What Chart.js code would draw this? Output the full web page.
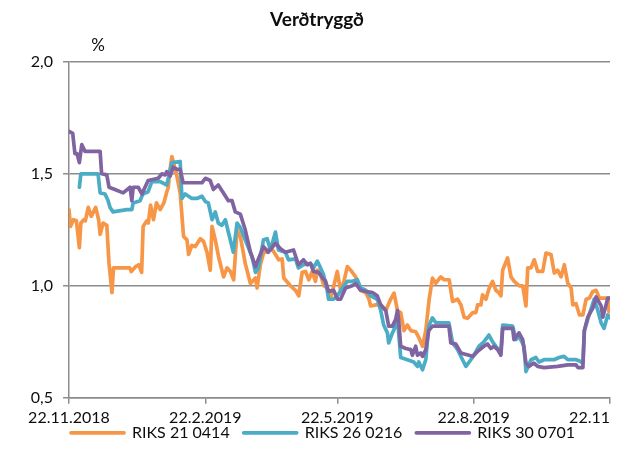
<!DOCTYPE html>
<html>
<head>
<meta charset="utf-8">
<script src="https://cdn.jsdelivr.net/npm/chart.js@4.4.1/dist/chart.umd.min.js"></script>
<style>
  body { margin: 0; background: #fff; }
  #wrap { width: 611px; height: 449px; overflow: hidden; }
</style>
</head>
<body>
<div id="wrap"><canvas id="chart" width="634" height="449"></canvas></div>
<script>
/* DATA: x = days after 22.11.2018 */
const tickDays = [0, 92, 181, 273, 365];
const tickLabels = ['22.11.2018', '22.2.2019', '22.5.2019', '22.8.2019', '22.11.2019'];

const seriesNames = ['RIKS 21 0414', 'RIKS 26 0216', 'RIKS 30 0701'];
const seriesColors = ['#F79646', '#4BACC6', '#8064A2'];

const r21Days = [0,1,3,5,7,8,10,11,13,15,18,20,21,23,25.5,27,29,30,41,42,45,47,49,50,52.5,53.5,55,57,59,61.5,64,66,67,68,69.4,70.5,72.8,75,77.3,79.6,80.7,82.9,85.2,88.6,90.8,93.1,95.3,96.5,98.7,100.9,104.3,106.6,108.9,111.1,113.4,115.6,118.9,122.4,125.8,126.9,129.1,131.4,133.7,135.9,139.3,141.5,143.8,144.9,149.4,152.8,155,157.3,159.6,161.8,164.1,166.3,167.5,169.7,171.9,174.2,176.5,178.7,181,183.2,185.5,187.8,190,193.4,196.8,200.1,202.4,203.5,206.9,210.3,213.7,217,219.3,221.6,223.8,226,228.3,230.6,233.9,236.2,238.5,240.7,243,245.2,247.5,250.8,253.1,256.5,258.8,262.2,264.4,266.6,268.9,272.3,274.5,275.7,277.9,279,281.3,283.5,285.8,288,290.3,291.4,292.6,293.6,295.9,298.2,300.4,303.8,306.1,308.3,309.5,311.7,313.9,316.2,319.6,321.8,325.2,327.4,329.7,332,334.2,336.5,338.8,339.9,342.1,344.4,346.7,348.9,351.1,353.4,355.6,357.9,363.5,364.3,365];
const r21Values = [1.34,1.265,1.295,1.29,1.17,1.28,1.295,1.29,1.35,1.31,1.35,1.295,1.23,1.28,1.27,1.10,0.97,1.08,1.08,1.064,1.086,1.094,1.06,1.265,1.29,1.28,1.36,1.295,1.37,1.34,1.37,1.42,1.44,1.51,1.577,1.55,1.49,1.415,1.22,1.205,1.14,1.18,1.175,1.21,1.198,1.15,1.07,1.265,1.205,1.13,1.04,1.08,1.064,1.027,1.25,1.22,1.10,1.01,1.035,0.99,1.094,1.15,1.15,1.175,1.14,1.116,1.12,1.035,1.0,0.98,0.955,1.06,1.064,1.027,1.064,1.02,1.07,1.05,1.0,0.99,0.945,1.0,1.064,0.98,1.02,1.086,1.07,1.04,0.98,0.97,0.94,0.91,0.915,0.915,0.89,0.94,0.967,0.89,0.88,0.80,0.825,0.80,0.795,0.766,0.73,0.80,0.94,1.034,1.012,1.04,1.027,1.027,0.93,0.94,0.915,0.86,0.855,0.88,0.88,0.915,0.915,0.96,0.94,0.99,1.02,0.98,0.967,0.955,1.07,1.086,1.124,1.04,1.02,1.0,1.0,0.91,1.08,1.08,1.116,1.064,1.064,1.146,1.14,1.057,1.07,1.04,1.094,1.012,0.99,0.915,0.92,0.87,0.87,0.94,0.945,0.975,0.98,0.945,0.945,0.885,0.945];

const r26Days = [7,8,19.6,21,24.3,26.4,27.7,29.7,39,42.4,43.3,48,49.8,53.4,55.9,61.5,66,69.4,75,76.2,78.4,82.9,86.3,89.7,92,94,96.5,98.7,100.7,103.2,105.5,107.5,110.9,113.4,115.6,118.9,123.5,125.8,127.8,131.2,133.7,135.9,139.3,141.3,146,148.1,152.8,154.8,158.2,162.9,165,167.5,169.7,171.7,174.2,175.1,178.5,181,184.4,187.8,191.1,194.5,196.8,200.1,203.5,208,210.3,212.3,214.8,215.7,218.2,219,221.6,222.4,223.8,228.3,232.6,235.1,236,238.5,240.7,242.7,245.2,247.5,256.3,258.8,262.2,265.5,267.8,271.1,273.2,276.5,279.9,283.3,285.8,289.2,291.4,292.6,299.3,301.6,303.6,307,308.3,311.7,315,317.1,320.5,327.3,330.6,334,336.5,342.1,344.2,346.7,347.7,350.9,354.3,356.8,359,361,363.5,365];
const r26Values = [1.44,1.50,1.50,1.415,1.41,1.38,1.35,1.33,1.34,1.34,1.37,1.38,1.41,1.42,1.465,1.465,1.45,1.55,1.555,1.39,1.41,1.39,1.39,1.40,1.376,1.37,1.295,1.33,1.28,1.27,1.295,1.24,1.15,1.28,1.26,1.205,1.13,1.06,1.08,1.205,1.21,1.16,1.24,1.16,1.15,1.116,1.12,1.08,1.094,1.10,1.08,1.11,1.08,1.05,0.98,0.94,0.94,0.955,0.99,1.02,1.02,1.027,0.99,0.98,0.955,0.94,0.89,0.825,0.79,0.745,0.79,0.80,0.85,0.79,0.68,0.67,0.66,0.64,0.66,0.625,0.67,0.82,0.857,0.835,0.835,0.745,0.715,0.67,0.64,0.67,0.69,0.73,0.75,0.78,0.75,0.72,0.707,0.825,0.82,0.76,0.775,0.73,0.617,0.67,0.68,0.66,0.67,0.67,0.68,0.685,0.67,0.67,0.665,0.655,0.80,0.87,0.94,0.89,0.835,0.81,0.87,0.857];

const r30Days = [0,2.5,4,5.4,7,8.6,10.8,21,22,25.5,27,31,36.5,41.2,42.4,43.3,46.7,49.2,53.4,60.2,62.7,64.9,66,68.3,70.3,72.8,75,77,89.7,92,95.3,97.4,100.7,104.1,107.5,110,112.2,115.6,118.9,122.4,125.8,127.8,131.2,134.5,139.3,142.7,146,151.5,154.8,158.2,160.9,162.9,165,168.4,171.1,173.1,175.1,178.5,181.2,183.2,186.6,191.1,193.4,196.8,200.1,204.7,208,210.3,213.7,215.7,218.2,220.4,221.6,222.4,223.8,227.2,230.6,231.7,233.9,235.1,237.3,238.5,240.7,242.7,245.2,256.3,257.6,261,264.4,269.8,272.3,275.7,279.9,282.4,284.6,286.7,289.2,291.4,292.6,299.3,300.2,303.6,306.1,308.3,310.3,313.7,316.2,320.5,329.7,336.5,342.1,343.3,346.7,347.7,350,353.4,355.6,359,360.2,363.5,365];
const r30Values = [1.689,1.68,1.59,1.59,1.55,1.63,1.60,1.60,1.50,1.495,1.44,1.43,1.415,1.44,1.38,1.44,1.44,1.41,1.47,1.48,1.50,1.495,1.51,1.49,1.53,1.52,1.52,1.46,1.46,1.48,1.47,1.43,1.45,1.415,1.38,1.38,1.33,1.32,1.25,1.15,1.086,1.12,1.175,1.15,1.19,1.165,1.15,1.16,1.094,1.116,1.094,1.10,1.064,1.06,1.035,1.02,0.975,0.98,0.94,0.94,0.99,1.0,1.01,0.98,0.975,0.97,0.955,0.915,0.89,0.82,0.82,0.85,0.89,0.85,0.73,0.72,0.715,0.69,0.73,0.69,0.70,0.685,0.715,0.80,0.82,0.82,0.745,0.74,0.70,0.69,0.685,0.707,0.73,0.74,0.72,0.73,0.715,0.69,0.81,0.81,0.76,0.79,0.76,0.655,0.64,0.655,0.64,0.635,0.64,0.647,0.647,0.635,0.635,0.80,0.86,0.90,0.95,0.91,0.86,0.945,0.945];

const yMin = 0.5, yMax = 2.0, yStep = 0.5;

function pts(days, vals){ return days.map((d,i)=>({x:d, y:vals[i]})); }

const FONT = 'Lato, "Open Sans", sans-serif';
const GRID = '#8c8c8c';
const TEXT = '#0d0d0d';

/* "%" unit above the value axis */
const percentLabel = {
  id: 'percentLabel',
  afterDraw(chart){
    const {ctx, chartArea} = chart;
    ctx.save();
    ctx.font = '17px ' + FONT;
    ctx.fillStyle = TEXT;
    ctx.textAlign = 'center';
    ctx.textBaseline = 'middle';
    ctx.fillText('%', chartArea.left + 29, chartArea.top - 16);
    ctx.restore();
  }
};

/* legend sits tight under the date labels */
const legendUp = {
  id: 'legendUp',
  afterLayout(chart){
    const lg = chart.legend;
    lg.top = chart.chartArea.bottom + 13;
    lg.bottom = lg.top + 50;
    lg.height = 50;
    lg.left += 6;
    lg.right += 6;
  }
};

const allDays = [r21Days, r26Days, r30Days];
const allValues = [r21Values, r26Values, r30Values];

new Chart(document.getElementById('chart'), {
  type: 'line',
  data: {
    datasets: seriesNames.map((name,i)=>({
      label: name,
      data: pts(allDays[i], allValues[i]),
      borderColor: seriesColors[i],
      backgroundColor: seriesColors[i],
      borderWidth: 3.7,
      borderCapStyle: 'round',
      borderJoinStyle: 'round',
      pointRadius: 0,
      tension: 0,
      order: 3 - i
    }))
  },
  options: {
    responsive: false,
    animation: false,
    layout: { padding: { left: 24, right: 24, top: 0, bottom: 0 } },
    plugins: {
      title: {
        display: true,
        text: 'Verðtryggð',
        color: TEXT,
        font: { family: FONT, size: 19, weight: 'bold' },
        padding: { top: 8, bottom: 31 }
      },
      legend: {
        position: 'bottom',
        maxHeight: 18,
        labels: {
          boxWidth: 53,
          boxHeight: 0,
          padding: 14,
          color: TEXT,
          font: { family: FONT, size: 16 },
          sort: (a, b) => a.datasetIndex - b.datasetIndex
        }
      },
      tooltip: { enabled: false }
    },
    scales: {
      x: {
        type: 'linear',
        min: tickDays[0],
        max: tickDays[tickDays.length-1],
        afterBuildTicks: (s)=>{ s.ticks = tickDays.map(v=>({value:v})); },
        afterFit: (s)=>{ s.paddingLeft = 0; s.paddingRight = 0; },
        grid: { drawOnChartArea: false, drawTicks: true, tickLength: 6, color: GRID, lineWidth: 1.5 },
        border: { color: GRID, width: 1.5 },
        ticks: {
          autoSkip: false, maxRotation: 0, minRotation: 0, padding: 4,
          color: TEXT, font: { family: FONT, size: 16 },
          callback: (v)=> tickLabels[tickDays.indexOf(v)]
        }
      },
      y: {
        min: yMin,
        max: yMax,
        afterFit: (s)=>{ s.width = 45; },
        grid: { color: GRID, lineWidth: 1.5, tickLength: 6 },
        border: { color: GRID, width: 1.5 },
        ticks: {
          stepSize: yStep, padding: 10,
          color: TEXT, font: { family: FONT, size: 16 },
          callback: (v)=> v.toFixed(1).replace('.', ',')
        }
      }
    }
  },
  plugins: [percentLabel, legendUp]
});
</script>
</body>
</html>
